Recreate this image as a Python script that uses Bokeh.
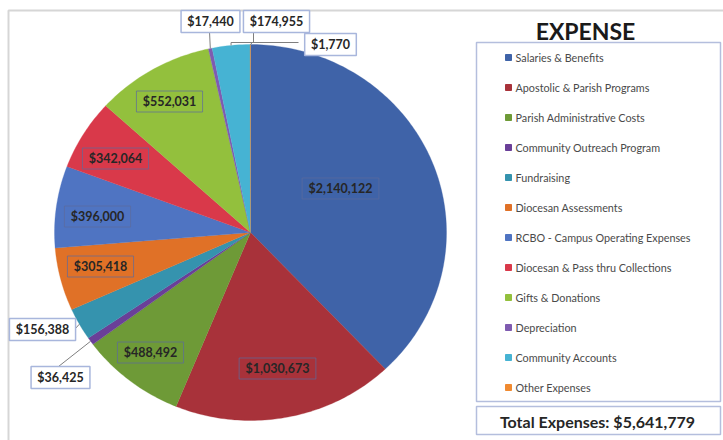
import numpy as np
from bokeh.plotting import figure
from bokeh.models import Range1d
from bokeh.embed import file_html
from bokeh.resources import INLINE
from bokeh.core.properties import value

# ---------------- data ----------------
title = "EXPENSE"
categories = [
    "Salaries & Benefits",
    "Apostolic & Parish Programs",
    "Parish Administrative Costs",
    "Community Outreach Program",
    "Fundraising",
    "Diocesan Assessments",
    "RCBO - Campus Operating Expenses",
    "Diocesan & Pass thru Collections",
    "Gifts & Donations",
    "Depreciation",
    "Community Accounts",
    "Other Expenses",
]
values = [2140122, 1030673, 488492, 36425, 156388, 305418,
          396000, 342064, 552031, 17440, 174955, 1770]
value_labels = ["$2,140,122", "$1,030,673", "$488,492", "$36,425", "$156,388",
                "$305,418", "$396,000", "$342,064", "$552,031", "$17,440",
                "$174,955", "$1,770"]
colors = ["#3F63A8", "#A8323A", "#6E9A37", "#6A3F98", "#3593AE", "#E07127",
          "#4F74C2", "#D9394A", "#93C03D", "#7F5BB0", "#46B3D3", "#F08A30"]
total_label = "Total Expenses: $5,641,779"

# ---------------- layout ----------------
FONT = value("Lato")
p = figure(width=723, height=440, x_range=Range1d(0, 723), y_range=Range1d(440, 0),
           output_backend="svg", toolbar_location=None, min_border=0)
p.axis.visible = False
p.grid.visible = False
p.outline_line_color = None
p.background_fill_color = "white"
p.border_fill_color = "white"

# chart frame
p.line([8, 8, 723], [440, 10, 10], line_color="#d6d6d6", line_width=2)

# pie (slightly elliptical in the picture)
cx, cy, rx, ry = 250, 232, 196, 188
vals = np.array(values, dtype=float)
ang = np.concatenate([[0], np.cumsum(vals) / vals.sum() * 2 * np.pi])
xs, ys = [], []
for a0, a1 in zip(ang[:-1], ang[1:]):
    t = np.linspace(a0, a1, max(3, int((a1 - a0) * 60)))
    xs.append([cx] + list(cx + rx * np.sin(t)))
    ys.append([cy] + list(cy - ry * np.cos(t)))
p.patches(xs, ys, fill_color=colors, line_color=colors, line_width=0.3)

mid = (ang[:-1] + ang[1:]) / 2
edge_x = cx + rx * np.sin(mid)
edge_y = cy - ry * np.cos(mid)

def text_w(s, size=12):
    w = 0
    for ch in s:
        w += 0.27 * size if ch in ",." else 0.58 * size
    return w

# inside labels: index -> centre
inside = {0: (340, 188), 1: (277, 368), 2: (150, 352), 5: (100, 266),
          6: (97, 216), 7: (115, 158), 8: (169, 101)}
for i, (x, y) in inside.items():
    w = text_w(value_labels[i], 12.5) + 12
    p.rect(x, y, w, 21, fill_alpha=0, line_color="#5c6b9c", line_alpha=0.7, line_width=1)
    p.text([x], [y], text=[value_labels[i]], text_font=FONT, text_font_style="bold",
           text_font_size="12.5px", text_color="#262626", text_align="center",
           text_baseline="middle")

# outside labels: index -> (centre, leader start path)
outside = {
    9: ((210, 21), [(209, 31)]),
    10: ((276, 21), [(275, 32), (253, 32), (253, 42), (None, 42)]),
    11: ((330, 44), [(298, 42), (252, 42)]),
    4: ((42, 329), [(74, 329)]),
    3: ((60, 377), [(58, 366)]),
}
for i, ((x, y), path) in outside.items():
    lx = [pt[0] if pt[0] is not None else edge_x[i] for pt in path] + [edge_x[i]]
    ly = [pt[1] for pt in path] + [edge_y[i]]
    p.line(lx, ly, line_color="#7f7f7f", line_width=1)
for i, ((x, y), path) in outside.items():
    w = text_w(value_labels[i], 12.5) + 12
    p.rect(x, y, w, 22, fill_color="white", line_color="#a8b6dc", line_width=1.5)
    p.text([x], [y], text=[value_labels[i]], text_font=FONT, text_font_style="bold",
           text_font_size="12.5px", text_color="#262626", text_align="center",
           text_baseline="middle")

# title
p.text([585], [30], text=[title], text_font=FONT, text_font_style="bold",
       text_font_size="23px", text_color="#1a1a1a", text_align="center",
       text_baseline="middle")

# legend box
p.quad(left=476, right=720, top=42, bottom=401, fill_color="white",
       line_color="#b4bedd", line_width=1.5)
ly = [57 + 30 * k for k in range(len(categories))]
p.scatter([508] * len(categories), ly, marker="square", size=6,
          fill_color=colors, line_color=colors)
p.text([515] * len(categories), ly, text=categories, text_font=FONT,
       text_font_size="10.8px", text_color="#4a4a4a", text_align="left",
       text_baseline="middle")

# total box
p.quad(left=476, right=720, top=406, bottom=434, fill_color="white",
       line_color="#b4bedd", line_width=1.5)
p.text([597], [421], text=[total_label], text_font=FONT, text_font_style="bold",
       text_font_size="16px", text_color="#262626", text_align="center",
       text_baseline="middle")

open("out.html", "w").write(file_html(p, INLINE))
